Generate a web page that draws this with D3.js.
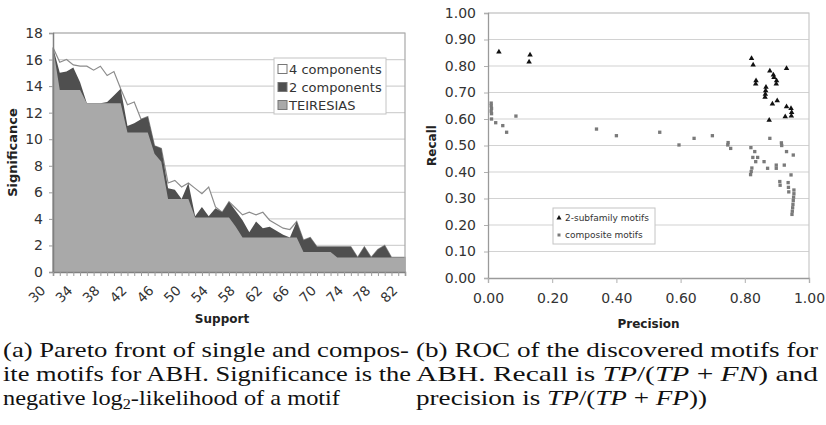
<!DOCTYPE html>
<html>
<head>
<meta charset="utf-8">
<script src="https://cdn.jsdelivr.net/npm/d3@7"></script>
<style>
  body { margin: 0; background: #fff; }
  svg text { font-family: "DejaVu Sans", Verdana, sans-serif; }
  svg text.cap { font-family: "Liberation Serif", "Times New Roman", serif; font-size: 21px; fill: #111; }
</style>
</head>
<body>
<svg id="fig" width="826" height="425"></svg>
<script>
// ---- (a) Pareto front data ----
const support = [30,31,32,33,34,35,36,37,38,39,40,41,42,43,44,45,46,47,48,49,50,51,52,53,54,55,56,
  57,58,59,60,61,62,63,64,65,66,67,68,69,70,71,72,73,74,75,76,77,78,79,80,81,82];
const fourComp = [16.9,15.8,16.0,15.6,15.5,15.5,15.2,15.5,14.8,15.1,13.8,12.6,12.8,11.5,11.7,9.5,9.3,
  6.7,6.9,6.4,6.7,6.3,5.9,6.4,4.9,4.5,5.3,4.8,4.3,4.5,4.3,4.5,3.9,3.6,3.3,3.2,3.8,2.4,2.6,
  1.9,1.9,1.9,1.9,1.9,1.9,1.1,1.9,1.1,1.7,2.0,1.1,1.1,1.1];
const twoComp = [16.9,15.0,15.1,15.4,14.3,12.7,12.7,12.7,12.8,13.3,13.8,11.0,11.2,11.5,11.7,9.5,9.3,
  6.3,6.2,5.5,6.7,4.2,4.9,4.2,4.8,4.5,5.3,4.6,3.9,3.0,3.8,3.3,3.4,3.1,2.8,2.6,3.8,2.4,2.6,
  1.9,1.9,1.9,1.9,1.9,1.9,1.1,1.9,1.1,1.7,2.0,1.1,1.1,1.1];
const teiresias = [16.9,13.7,13.7,13.7,13.7,12.7,12.7,12.7,12.7,12.7,12.7,10.5,10.5,10.5,10.5,8.9,8.3,
  5.5,5.5,5.5,5.5,4.1,4.1,4.1,4.1,4.1,4.1,3.4,2.6,2.6,2.6,2.6,2.6,2.6,2.6,2.6,2.6,1.5,1.5,
  1.5,1.5,1.5,1.1,1.1,1.1,1.1,1.1,1.1,1.1,1.1,1.1,1.1,1.1];
const sigTicks = [0,2,4,6,8,10,12,14,16,18];
const supportLabels = [30,34,38,42,46,50,54,58,62,66,70,74,78,82];
const legendA = ["4 components", "2 components", "TEIRESIAS"];

// ---- (b) ROC data: [precision, recall] ----
const subfamilyMotifs = [[0.034,0.853],[0.131,0.842],[0.128,0.815],[0.821,0.829],[0.826,0.804],
  [0.878,0.781],[0.889,0.766],[0.891,0.757],[0.899,0.745],[0.898,0.732],[0.930,0.791],[0.835,0.745],
  [0.834,0.732],[0.866,0.720],[0.865,0.707],[0.864,0.694],[0.863,0.682],[0.886,0.657],[0.901,0.669],
  [0.930,0.647],[0.926,0.609],[0.944,0.640],[0.946,0.625],[0.945,0.612],[0.876,0.596]];
const compositeMotifs = [[0.010,0.660],[0.010,0.650],[0.011,0.640],[0.010,0.630],[0.011,0.620],
  [0.011,0.600],[0.024,0.586],[0.046,0.575],[0.058,0.550],[0.087,0.611],[0.338,0.562],[0.400,0.537],
  [0.535,0.550],[0.595,0.502],[0.642,0.527],[0.699,0.537],[0.748,0.511],[0.747,0.502],[0.756,0.489],
  [0.819,0.492],[0.831,0.477],[0.878,0.527],[0.914,0.510],[0.915,0.500],[0.930,0.477],[0.951,0.464],
  [0.825,0.455],[0.840,0.455],[0.834,0.439],[0.860,0.439],[0.871,0.414],[0.898,0.426],[0.898,0.414],
  [0.923,0.426],[0.822,0.415],[0.820,0.402],[0.818,0.390],[0.909,0.364],[0.910,0.350],[0.935,0.360],
  [0.936,0.342],[0.937,0.325],[0.944,0.389],[0.953,0.332],[0.953,0.318],[0.952,0.305],[0.951,0.292],
  [0.950,0.278],[0.949,0.265],[0.948,0.252],[0.947,0.240]];
const recallTicks = [0,0.1,0.2,0.3,0.4,0.5,0.6,0.7,0.8,0.9,1.0];
const precisionTicks = [0,0.2,0.4,0.6,0.8,1.0];
const legendB = ["2-subfamily motifs", "composite motifs"];

const svg = d3.select("#fig");

// ================= chart (a) =================
const ga = svg.append("g");
const xA = d3.scaleLinear().domain([30, 82]).range([53, 405]);
const yA = d3.scaleLinear().domain([0, 18]).range([272, 33]);

// gridlines
ga.append("g").selectAll("line").data(sigTicks.slice(1)).join("line")
  .attr("x1", 53).attr("x2", 405)
  .attr("y1", d => yA(d)).attr("y2", d => yA(d))
  .attr("stroke", "#d2d2d2").attr("stroke-width", 1.2);

const rowsA = support.map((s, i) => ({s, w: fourComp[i], t: twoComp[i], r: teiresias[i]}));
const areaA = key => d3.area().x(d => xA(d.s)).y0(yA(0)).y1(d => yA(d[key]));

ga.append("path").datum(rowsA).attr("d", areaA("w"))
  .attr("fill", "#fff").attr("stroke", "#8c8c8c").attr("stroke-width", 1.2);
ga.append("path").datum(rowsA).attr("d", areaA("t"))
  .attr("fill", "#4f4f4f");
ga.append("path").datum(rowsA).attr("d", areaA("r"))
  .attr("fill", "#a9a9a9");

// plot border (top/right)
ga.append("path").attr("d", `M53,${yA(18)}H405V${yA(0)}`)
  .attr("fill", "none").attr("stroke", "#a8a8a8").attr("stroke-width", 1.2);

// axes
const yAxisA = ga.append("g").attr("transform", "translate(53,0)")
  .call(d3.axisLeft(yA).tickValues(sigTicks).tickSize(4).tickPadding(6));
const xAxisA = ga.append("g").attr("transform", `translate(0,${yA(0)})`)
  .call(d3.axisBottom(xA).tickValues(support).tickSize(4).tickFormat(""));
[yAxisA, xAxisA].forEach(g => {
  g.select(".domain").attr("stroke", "#808080").attr("stroke-width", 1.5);
  g.selectAll(".tick line").attr("stroke", "#9a9a9a");
});
yAxisA.selectAll("text").attr("font-size", 14).attr("fill", "#333")
  .attr("font-family", "DejaVu Sans");

ga.append("g").selectAll("text").data(supportLabels).join("text")
  .attr("transform", d => `translate(${xA(d) - 10},288) rotate(-45)`)
  .attr("text-anchor", "end").attr("dy", "0.35em")
  .attr("font-size", 13.5).attr("fill", "#333")
  .text(d => d);

ga.append("text").attr("transform", "translate(17,152.5) rotate(-90)")
  .attr("text-anchor", "middle").attr("font-size", 13).attr("font-weight", "bold")
  .attr("fill", "#222").text("Significance");
ga.append("text").attr("x", 222).attr("y", 323)
  .attr("text-anchor", "middle").attr("font-size", 12).attr("font-weight", "bold")
  .attr("fill", "#222").text("Support");

// legend (a)
const legA = ga.append("g").attr("transform", "translate(274,58)");
legA.append("rect").attr("width", 112).attr("height", 56)
  .attr("fill", "#fff").attr("stroke", "#c4c4c4");
const legFill = ["#fff", "#4f4f4f", "#a9a9a9"];
legA.selectAll("g.item").data(legendA).join("g").attr("class", "item")
  .attr("transform", (d, i) => `translate(4,${11 + i * 18})`)
  .each(function(d, i) {
    const g = d3.select(this);
    g.append("rect").attr("x", 0).attr("y", -4.5).attr("width", 9).attr("height", 9)
      .attr("fill", legFill[i]).attr("stroke", "#777");
    g.append("text").attr("x", 11).attr("dy", "0.36em")
      .attr("font-size", 13).attr("fill", "#333").text(d);
  });

// ================= chart (b) =================
const gb = svg.append("g");
const xB = d3.scaleLinear().domain([0, 1]).range([488, 809]);
const yB = d3.scaleLinear().domain([0, 1]).range([278, 13]);

gb.append("g").selectAll("line").data(recallTicks.slice(1)).join("line")
  .attr("x1", 488).attr("x2", 809)
  .attr("y1", d => yB(d)).attr("y2", d => yB(d))
  .attr("stroke", "#d2d2d2").attr("stroke-width", 1.2);
gb.append("path").attr("d", `M488,${yB(1)}H809V${yB(0)}`)
  .attr("fill", "none").attr("stroke", "#c8c8c8").attr("stroke-width", 1.2);

const yAxisB = gb.append("g").attr("transform", "translate(488,0)")
  .call(d3.axisLeft(yB).tickValues(recallTicks).tickFormat(d3.format(".2f")).tickSize(4).tickPadding(8));
const xAxisB = gb.append("g").attr("transform", `translate(0,${yB(0)})`)
  .call(d3.axisBottom(xB).tickValues(precisionTicks).tickFormat(d3.format(".2f")).tickSize(5).tickPadding(10));
[yAxisB, xAxisB].forEach(g => {
  g.select(".domain").attr("stroke", "#9a9a9a").attr("stroke-width", 1.3);
  g.selectAll(".tick line").attr("stroke", "#b0b0b0");
  g.selectAll("text").attr("font-size", 14).attr("fill", "#333")
    .attr("font-family", "DejaVu Sans");
});

gb.append("g").selectAll("path").data(compositeMotifs).join("path")
  .attr("transform", d => `translate(${xB(d[0])},${yB(d[1])})`)
  .attr("d", d3.symbol(d3.symbolSquare, 11)())
  .attr("fill", "#7a7a7a");
gb.append("g").selectAll("path").data(subfamilyMotifs).join("path")
  .attr("transform", d => `translate(${xB(d[0])},${yB(d[1])})`)
  .attr("d", d3.symbol(d3.symbolTriangle, 13)())
  .attr("fill", "#111");

gb.append("text").attr("transform", "translate(436,145.5) rotate(-90)")
  .attr("text-anchor", "middle").attr("font-size", 12).attr("font-weight", "bold")
  .attr("fill", "#222").text("Recall");
gb.append("text").attr("x", 648.5).attr("y", 328)
  .attr("text-anchor", "middle").attr("font-size", 12).attr("font-weight", "bold")
  .attr("fill", "#222").text("Precision");

// legend (b)
const legB = gb.append("g").attr("transform", "translate(553,208)");
legB.append("rect").attr("width", 102).attr("height", 36)
  .attr("fill", "#fff").attr("stroke", "#c4c4c4");
legB.selectAll("g.item").data(legendB).join("g").attr("class", "item")
  .attr("transform", (d, i) => `translate(6,${10 + i * 17})`)
  .each(function(d, i) {
    const g = d3.select(this);
    g.append("path")
      .attr("d", d3.symbol(i === 0 ? d3.symbolTriangle : d3.symbolSquare, i === 0 ? 11 : 9)())
      .attr("fill", i === 0 ? "#111" : "#7a7a7a");
    g.append("text").attr("x", 6).attr("dy", "0.35em")
      .attr("font-size", 9).attr("fill", "#333").text(d);
  });

// ================= captions =================
function caption(x, y, width, parts) {
  const t = svg.append("text").attr("class", "cap").attr("x", x).attr("y", y);
  if (width) t.attr("textLength", width).attr("lengthAdjust", "spacingAndGlyphs");
  parts.forEach(p => {
    const s = t.append("tspan").text(p.t);
    if (p.i) s.attr("font-style", "italic");
    if (p.sub) s.attr("font-size", 14).attr("dy", 4);
    if (p.up) s.attr("dy", -4);
  });
}
caption(3, 357, 406, [{t: "(a) Pareto front of single and compos-"}]);
caption(3, 381, 408, [{t: "ite motifs for ABH. Significance is the"}]);
caption(3, 405, 337, [{t: "negative log"}, {t: "2", sub: true}, {t: "-likelihood of a motif", up: true}]);
caption(416, 357, 402, [{t: "(b) ROC of the discovered motifs for"}]);
caption(416, 381, 402, [{t: "ABH. Recall is "}, {t: "TP", i: true}, {t: "/("}, {t: "TP", i: true},
  {t: " + "}, {t: "FN", i: true}, {t: ") and"}]);
caption(416, 405, 291, [{t: "precision is "}, {t: "TP", i: true}, {t: "/("}, {t: "TP", i: true},
  {t: " + "}, {t: "FP", i: true}, {t: "))"}]);
</script>
</body>
</html>
